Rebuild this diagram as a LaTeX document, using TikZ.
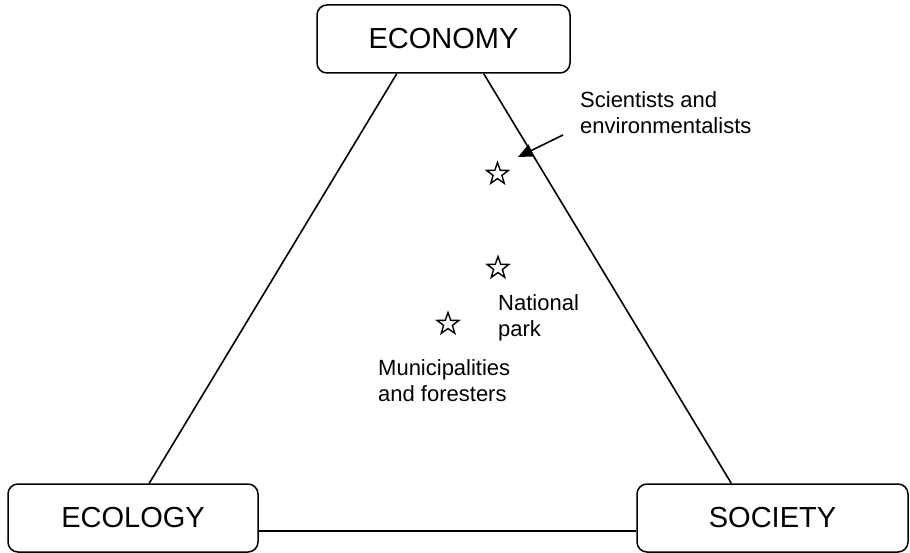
\documentclass[tikz,border=0pt]{standalone}
\usepackage{fontspec}
\setmainfont{Liberation Sans}
\usetikzlibrary{shapes.geometric,arrows.meta}
\tikzset{
  pillar/.style={draw, rounded corners=10pt, line width=1.5pt, minimum height=68pt, inner sep=0pt, font=\fontsize{29}{34}\selectfont},
  conn/.style={line width=1.6pt},
  lbl/.style={align=left, inner sep=0pt, anchor=base west, font=\fontsize{22}{26}\selectfont},
  actor/.style={draw, star, star points=5, star point ratio=2.5, minimum size=23pt, inner sep=0pt, line width=1.4pt},
}
\begin{document}
\begin{tikzpicture}[x=1pt,y=-1pt]
\useasboundingbox (0,0) rectangle (910,553);
\node[pillar, minimum width=253pt] (econ) at (443.5,39) {ECONOMY};
\node[pillar, minimum width=250pt] (ecol) at (133,518) {ECOLOGY};
\node[pillar, minimum width=271pt] (soc) at (772.5,518) {SOCIETY};
\draw[conn] ([xshift=80.5pt]econ.south west) -- ([xshift=142pt]ecol.north west);
\draw[conn] ([xshift=-87pt]econ.south east) -- ([xshift=95pt]soc.north west);
\draw[conn] ([yshift=-13pt]ecol.east) -- ([yshift=-13pt]soc.west);
\node[actor] (s1) at (497.5,174) {};
\node[actor] (s2) at (498,268) {};
\node[actor] (s3) at (448,324) {};
\node[lbl] (sci) at (580,134) {Scientists and\\environmentalists};
\node[lbl] (np) at (498,336) {National\\park};
\node[lbl] (mun) at (378,401) {Municipalities\\and foresters};
\coordinate (atail) at (563,135);
\coordinate (atip) at (518,157);
\draw[line width=1.6pt, -{Triangle[length=15pt,width=13pt]}] (atail) -- (atip);
\end{tikzpicture}
\end{document}
